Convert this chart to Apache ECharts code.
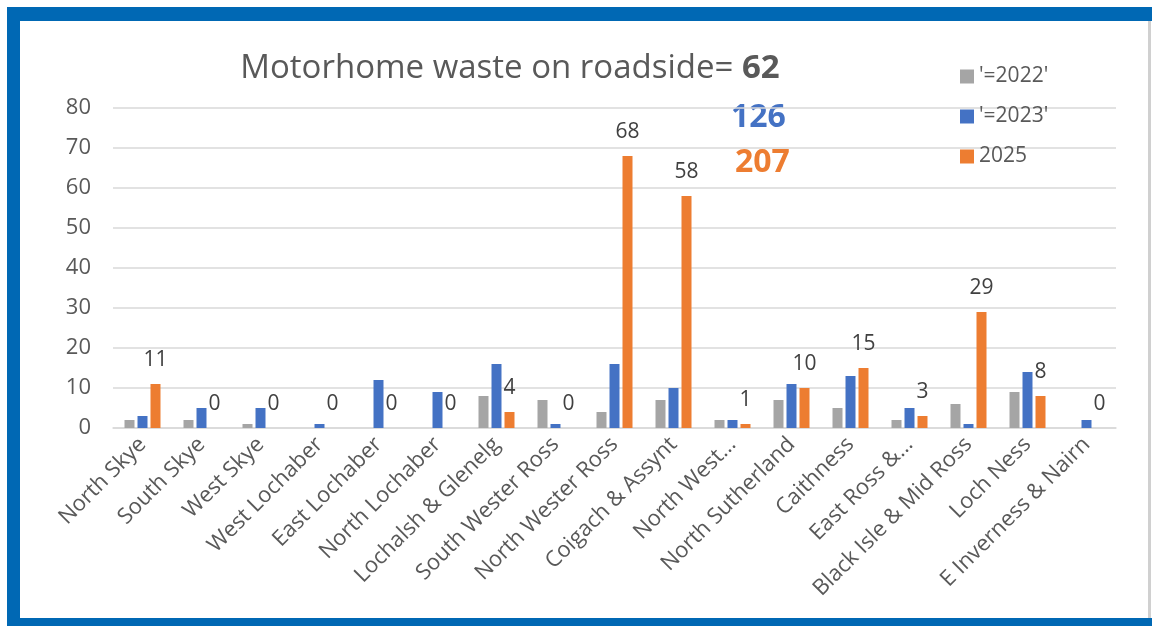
<!DOCTYPE html>
<html>
<head>
<meta charset="utf-8">
<title>Motorhome waste on roadside</title>
<script src="https://cdn.jsdelivr.net/npm/echarts@6/dist/echarts.min.js"></script>
<style>
  html, body { margin: 0; padding: 0; background: #fff; }
  #wrap { position: relative; width: 1152px; height: 626px; overflow: hidden; }
  /* blue frame round the chart */
  .frame { position: absolute; background: #0068B4; }
  #chart { position: absolute; left: 0; top: 0; width: 1152px; height: 626px; }
</style>
</head>
<body>
<div id="wrap">
  <div class="frame" style="left:7px; top:7px; width:1145px; height:14px;"></div>
  <div class="frame" style="left:7px; top:7px; width:13px; height:619px;"></div>
  <div class="frame" style="left:7px; top:618px; width:1145px; height:8px;"></div>
  <div style="position:absolute; left:1148px; top:21px; width:3px; height:597px; background:#D0D0D0;"></div>
  <div id="chart"></div>
</div>
<script>
// 各地区名称
const categories = [
  'North Skye', 'South Skye', 'West Skye', 'West Lochaber', 'East Lochaber',
  'North Lochaber', 'Lochalsh & Glenelg', 'South Wester Ross', 'North Wester Ross',
  'Coigach & Assynt', 'North West...', 'North Sutherland', 'Caithness',
  'East Ross &...', 'Black Isle & Mid Ross', 'Loch Ness', 'E Inverness & Nairn'
];
const seriesNames = ["'=2022'", "'=2023'", '2025'];
const values2022 = [2, 2, 1, 0, 0, 0, 8, 7, 4, 7, 2, 7, 5, 2, 6, 9, 0];
const values2023 = [3, 5, 5, 1, 12, 9, 16, 1, 16, 10, 2, 11, 13, 5, 1, 14, 2];
const values2025 = [11, 0, 0, 0, 0, 0, 4, 0, 68, 58, 1, 10, 15, 3, 29, 8, 0];
const totals = ['62', '126', '207'];
const yTicks = { min: 0, max: 80, interval: 10 };

const colors = ['#A5A5A5', '#4472C4', '#ED7D31'];
const textGray = '#595959';
const font = 'Open Sans';

const chart = echarts.init(document.getElementById('chart'));

const option = {
  color: colors,
  animation: false,
  textStyle: { fontFamily: font },
  title: {
    text: 'Motorhome waste on roadside= {b|' + totals[0] + '}',
    left: 505,
    top: 47,
    textAlign: 'center',
    textStyle: {
      fontFamily: font,
      fontSize: 33,
      fontWeight: 'normal',
      color: textGray,
      rich: {
        b: { fontFamily: font, fontSize: 33, fontWeight: 'bold', color: textGray }
      }
    }
  },
  graphic: [
    {
      type: 'text', left: 731, top: 102,
      style: { text: totals[1], font: 'bold 32px "Open Sans"', fill: colors[1] }
    },
    {
      type: 'text', left: 735, top: 147,
      style: { text: totals[2], font: 'bold 32px "Open Sans"', fill: colors[2] }
    }
  ],
  legend: {
    orient: 'vertical',
    left: 955,
    top: 61,
    itemWidth: 14,
    itemHeight: 14,
    itemGap: 19,
    icon: 'rect',
    textStyle: { fontFamily: font, fontSize: 21, color: textGray },
    data: seriesNames
  },
  grid: { left: 113, right: 36, top: 108, bottom: 198 },
  xAxis: {
    type: 'category',
    data: categories,
    axisLine: { lineStyle: { color: '#D9D9D9', width: 1.5 } },
    axisTick: { show: false },
    axisLabel: {
      interval: 0,
      rotate: 45,
      margin: 13,
      fontFamily: font,
      fontSize: 22,
      color: textGray
    }
  },
  yAxis: {
    type: 'value',
    min: yTicks.min,
    max: yTicks.max,
    interval: yTicks.interval,
    axisLine: { show: false },
    axisTick: { show: false },
    splitLine: { lineStyle: { color: '#D9D9D9', width: 1.5 } },
    axisLabel: { fontFamily: font, fontSize: 22, color: textGray, margin: 22 }
  },
  series: [
    { name: seriesNames[0], type: 'bar', data: values2022, barWidth: 10, barGap: '30%' },
    { name: seriesNames[1], type: 'bar', data: values2023, barWidth: 10, barGap: '30%' },
    {
      name: seriesNames[2], type: 'bar', data: values2025, barWidth: 10, barGap: '30%',
      label: {
        show: true,
        position: 'top',
        distance: 13,
        fontFamily: font,
        fontSize: 21,
        color: '#404040'
      }
    }
  ]
};

chart.setOption(option);
</script>
</body>
</html>
